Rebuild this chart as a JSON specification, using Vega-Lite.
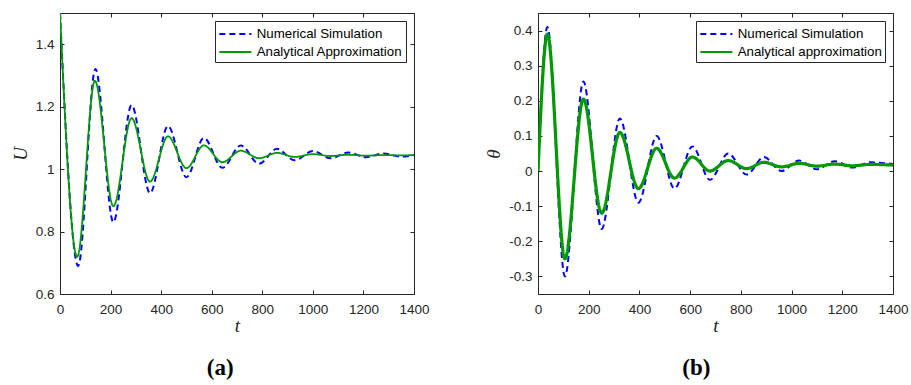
{
  "$schema": "https://vega.github.io/schema/vega-lite/v6.json",
  "autosize": {"type": "pad"},
  "padding": {"left": 11, "top": 12, "right": 4, "bottom": 3},
  "background": "white",
  "spacing": 54,
  "config": {
    "font": "Liberation Sans",
    "view": {"stroke": null},
    "axis": {
      "domainColor": "#262626", "tickColor": "#262626", "labelColor": "#262626",
      "labelFont": "Liberation Sans", "labelFontSize": 13.5, "grid": false,
      "tickSize": -4, "labelPadding": 10, "labelFlush": false,
      "titleFont": "Liberation Serif", "titleFontStyle": "italic", "titleFontWeight": "normal",
      "titleFontSize": 19, "titleColor": "#262626"
    },
    "axisX": {"labelPadding": 12},
    "legend": {
      "orient": "top-right", "offset": 8, "fillColor": "white", "strokeColor": "#262626",
      "padding": 3, "labelFont": "Liberation Sans", "labelFontSize": 13.3, "labelColor": "#000",
      "symbolSize": 300, "symbolStrokeWidth": 2, "rowPadding": 1, "labelOffset": 18.7,
      "symbolType": "M-1,0H2.7"
    },
    "title": {"font": "Liberation Serif", "fontWeight": "bold", "fontSize": 23, "color": "#000", "orient": "bottom", "offset": 21, "frame": "bounds"}
  },
  "datasets": {
    "u": [
      {"t": 0, "v": 1.5, "s": "Analytical Approximation"},
      {"t": 68, "v": 0.719, "s": "Analytical Approximation"},
      {"t": 138, "v": 1.283, "s": "Analytical Approximation"},
      {"t": 211, "v": 0.881, "s": "Analytical Approximation"},
      {"t": 283, "v": 1.163, "s": "Analytical Approximation"},
      {"t": 356, "v": 0.96, "s": "Analytical Approximation"},
      {"t": 427, "v": 1.105, "s": "Analytical Approximation"},
      {"t": 500, "v": 1.003, "s": "Analytical Approximation"},
      {"t": 569, "v": 1.076, "s": "Analytical Approximation"},
      {"t": 642, "v": 1.022, "s": "Analytical Approximation"},
      {"t": 715, "v": 1.059, "s": "Analytical Approximation"},
      {"t": 787, "v": 1.035, "s": "Analytical Approximation"},
      {"t": 858, "v": 1.052, "s": "Analytical Approximation"},
      {"t": 928, "v": 1.039, "s": "Analytical Approximation"},
      {"t": 1000, "v": 1.048, "s": "Analytical Approximation"},
      {"t": 1070, "v": 1.042, "s": "Analytical Approximation"},
      {"t": 1140, "v": 1.046, "s": "Analytical Approximation"},
      {"t": 1210, "v": 1.043, "s": "Analytical Approximation"},
      {"t": 1280, "v": 1.045, "s": "Analytical Approximation"},
      {"t": 1350, "v": 1.044, "s": "Analytical Approximation"},
      {"t": 1400, "v": 1.045, "s": "Analytical Approximation"},
      {"t": 0, "v": 1.5, "s": "Numerical Simulation"},
      {"t": 72, "v": 0.69, "s": "Numerical Simulation"},
      {"t": 140, "v": 1.321, "s": "Numerical Simulation"},
      {"t": 211, "v": 0.83, "s": "Numerical Simulation"},
      {"t": 283, "v": 1.205, "s": "Numerical Simulation"},
      {"t": 356, "v": 0.923, "s": "Numerical Simulation"},
      {"t": 427, "v": 1.138, "s": "Numerical Simulation"},
      {"t": 500, "v": 0.974, "s": "Numerical Simulation"},
      {"t": 569, "v": 1.1, "s": "Numerical Simulation"},
      {"t": 642, "v": 1.004, "s": "Numerical Simulation"},
      {"t": 715, "v": 1.076, "s": "Numerical Simulation"},
      {"t": 787, "v": 1.017, "s": "Numerical Simulation"},
      {"t": 858, "v": 1.065, "s": "Numerical Simulation"},
      {"t": 928, "v": 1.028, "s": "Numerical Simulation"},
      {"t": 1000, "v": 1.058, "s": "Numerical Simulation"},
      {"t": 1070, "v": 1.035, "s": "Numerical Simulation"},
      {"t": 1140, "v": 1.053, "s": "Numerical Simulation"},
      {"t": 1210, "v": 1.038, "s": "Numerical Simulation"},
      {"t": 1280, "v": 1.05, "s": "Numerical Simulation"},
      {"t": 1350, "v": 1.04, "s": "Numerical Simulation"},
      {"t": 1400, "v": 1.045, "s": "Numerical Simulation"}
    ],
    "th": [
      {"t": 0, "v": 0, "s": "Analytical approximation"},
      {"t": 37, "v": 0.39, "s": "Analytical approximation"},
      {"t": 106, "v": -0.25, "s": "Analytical approximation"},
      {"t": 179, "v": 0.205, "s": "Analytical approximation"},
      {"t": 251, "v": -0.12, "s": "Analytical approximation"},
      {"t": 323, "v": 0.11, "s": "Analytical approximation"},
      {"t": 396, "v": -0.05, "s": "Analytical approximation"},
      {"t": 468, "v": 0.065, "s": "Analytical approximation"},
      {"t": 538, "v": -0.02, "s": "Analytical approximation"},
      {"t": 609, "v": 0.04, "s": "Analytical approximation"},
      {"t": 678, "v": 0.0, "s": "Analytical approximation"},
      {"t": 750, "v": 0.03, "s": "Analytical approximation"},
      {"t": 823, "v": 0.007, "s": "Analytical approximation"},
      {"t": 891, "v": 0.025, "s": "Analytical approximation"},
      {"t": 960, "v": 0.012, "s": "Analytical approximation"},
      {"t": 1030, "v": 0.022, "s": "Analytical approximation"},
      {"t": 1100, "v": 0.014, "s": "Analytical approximation"},
      {"t": 1170, "v": 0.02, "s": "Analytical approximation"},
      {"t": 1240, "v": 0.015, "s": "Analytical approximation"},
      {"t": 1310, "v": 0.019, "s": "Analytical approximation"},
      {"t": 1400, "v": 0.017, "s": "Analytical approximation"},
      {"t": 0, "v": 0, "s": "Numerical Simulation"},
      {"t": 37, "v": 0.41, "s": "Numerical Simulation"},
      {"t": 106, "v": -0.3, "s": "Numerical Simulation"},
      {"t": 179, "v": 0.255, "s": "Numerical Simulation"},
      {"t": 251, "v": -0.165, "s": "Numerical Simulation"},
      {"t": 323, "v": 0.15, "s": "Numerical Simulation"},
      {"t": 396, "v": -0.09, "s": "Numerical Simulation"},
      {"t": 468, "v": 0.1, "s": "Numerical Simulation"},
      {"t": 538, "v": -0.05, "s": "Numerical Simulation"},
      {"t": 609, "v": 0.07, "s": "Numerical Simulation"},
      {"t": 678, "v": -0.025, "s": "Numerical Simulation"},
      {"t": 750, "v": 0.05, "s": "Numerical Simulation"},
      {"t": 823, "v": -0.01, "s": "Numerical Simulation"},
      {"t": 891, "v": 0.04, "s": "Numerical Simulation"},
      {"t": 960, "v": 0.0, "s": "Numerical Simulation"},
      {"t": 1030, "v": 0.03, "s": "Numerical Simulation"},
      {"t": 1100, "v": 0.005, "s": "Numerical Simulation"},
      {"t": 1170, "v": 0.028, "s": "Numerical Simulation"},
      {"t": 1240, "v": 0.01, "s": "Numerical Simulation"},
      {"t": 1310, "v": 0.025, "s": "Numerical Simulation"},
      {"t": 1400, "v": 0.02, "s": "Numerical Simulation"}
    ]
  },
  "resolve": {"scale": {"color": "independent", "strokeDash": "independent"}, "legend": {"color": "independent", "strokeDash": "independent"}},
  "hconcat": [
    {
      "width": 354, "height": 281,
      "title": "(a)",
      "data": {"name": "u"},
      "resolve": {"axis": {"x": "independent", "y": "independent"}},
      "layer": [
        {
          "transform": [{"filter": "datum.s == 'Numerical Simulation'"}],
          "mark": {"type": "line", "interpolate": "monotone", "strokeWidth": 2, "clip": true},
          "encoding": {
            "x": {"field": "t", "type": "quantitative", "scale": {"domain": [0, 1400], "nice": false, "zero": false},
                  "axis": {"title": "t", "values": [0, 200, 400, 600, 800, 1000, 1200, 1400], "format": "d", "titlePadding": 1}},
            "y": {"field": "v", "type": "quantitative", "scale": {"domain": [0.6, 1.5], "nice": false, "zero": false},
                  "axis": {"title": "U", "values": [0.6, 0.8, 1, 1.2, 1.4], "format": "~g", "titlePadding": 5}},
            "color": {"field": "s", "type": "nominal", "scale": {"domain": ["Numerical Simulation", "Analytical Approximation"], "range": ["#0000ff", "#009900"]}, "legend": {"title": null}},
            "strokeDash": {"field": "s", "type": "nominal", "scale": {"domain": ["Numerical Simulation", "Analytical Approximation"], "range": [[6, 4], [1, 0]]}, "legend": {"title": null}}
          }
        },
        {
          "transform": [{"filter": "datum.s != 'Numerical Simulation'"}],
          "mark": {"type": "line", "interpolate": "monotone", "strokeWidth": 1.8, "clip": true},
          "encoding": {
            "x": {"field": "t", "type": "quantitative", "scale": {"domain": [0, 1400], "nice": false, "zero": false},
                  "axis": {"orient": "top", "labels": false, "title": null, "values": [0, 200, 400, 600, 800, 1000, 1200, 1400]}},
            "y": {"field": "v", "type": "quantitative", "scale": {"domain": [0.6, 1.5], "nice": false, "zero": false},
                  "axis": {"orient": "right", "labels": false, "title": null, "values": [0.6, 0.8, 1, 1.2, 1.4]}},
            "color": {"field": "s", "type": "nominal", "scale": {"domain": ["Numerical Simulation", "Analytical Approximation"], "range": ["#0000ff", "#009900"]}, "legend": {"title": null}},
            "strokeDash": {"field": "s", "type": "nominal", "scale": {"domain": ["Numerical Simulation", "Analytical Approximation"], "range": [[6, 4], [1, 0]]}, "legend": {"title": null}}
          }
        }
      ]
    },
    {
      "width": 355, "height": 281,
      "title": "(b)",
      "data": {"name": "th"},
      "resolve": {"axis": {"x": "independent", "y": "independent"}},
      "layer": [
        {
          "transform": [{"filter": "datum.s == 'Numerical Simulation'"}],
          "mark": {"type": "line", "interpolate": "monotone", "strokeWidth": 2, "clip": true},
          "encoding": {
            "x": {"field": "t", "type": "quantitative", "scale": {"domain": [0, 1400], "nice": false, "zero": false},
                  "axis": {"title": "t", "values": [0, 200, 400, 600, 800, 1000, 1200, 1400], "format": "d", "titlePadding": 1}},
            "y": {"field": "v", "type": "quantitative", "scale": {"domain": [-0.35, 0.45], "nice": false, "zero": false},
                  "axis": {"title": "θ", "values": [-0.3, -0.2, -0.1, 0, 0.1, 0.2, 0.3, 0.4], "labelExpr": "datum.value < 0 ? '-' + format(-datum.value, '~g') : format(datum.value, '~g')", "titlePadding": 5}},
            "color": {"field": "s", "type": "nominal", "scale": {"domain": ["Numerical Simulation", "Analytical approximation"], "range": ["#0000ff", "#009900"]}, "legend": {"title": null}},
            "strokeDash": {"field": "s", "type": "nominal", "scale": {"domain": ["Numerical Simulation", "Analytical approximation"], "range": [[6, 4], [1, 0]]}, "legend": {"title": null}}
          }
        },
        {
          "transform": [{"filter": "datum.s != 'Numerical Simulation'"}],
          "mark": {"type": "line", "interpolate": "monotone", "strokeWidth": 3.2, "clip": true},
          "encoding": {
            "x": {"field": "t", "type": "quantitative", "scale": {"domain": [0, 1400], "nice": false, "zero": false},
                  "axis": {"orient": "top", "labels": false, "title": null, "values": [0, 200, 400, 600, 800, 1000, 1200, 1400]}},
            "y": {"field": "v", "type": "quantitative", "scale": {"domain": [-0.35, 0.45], "nice": false, "zero": false},
                  "axis": {"orient": "right", "labels": false, "title": null, "values": [-0.3, -0.2, -0.1, 0, 0.1, 0.2, 0.3, 0.4]}},
            "color": {"field": "s", "type": "nominal", "scale": {"domain": ["Numerical Simulation", "Analytical approximation"], "range": ["#0000ff", "#009900"]}, "legend": {"title": null}},
            "strokeDash": {"field": "s", "type": "nominal", "scale": {"domain": ["Numerical Simulation", "Analytical approximation"], "range": [[6, 4], [1, 0]]}, "legend": {"title": null}}
          }
        }
      ]
    }
  ]
}
